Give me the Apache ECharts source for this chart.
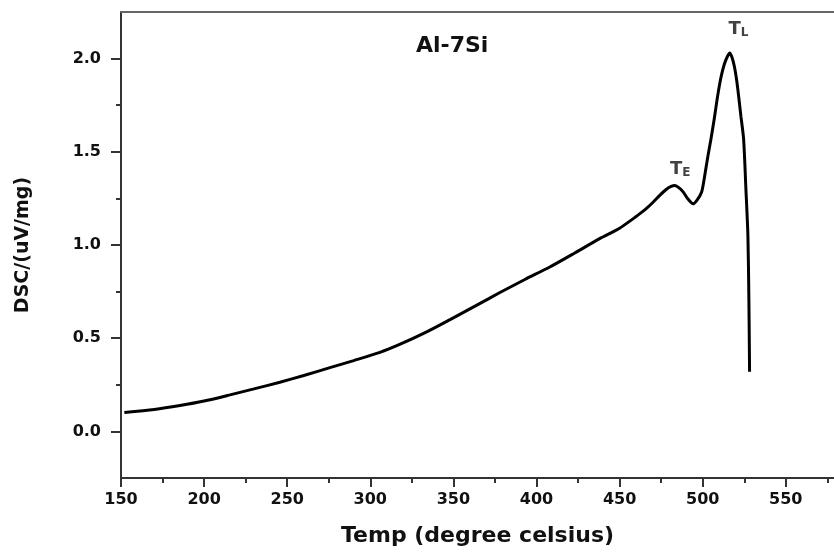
<!DOCTYPE html>
<html>
<head>
<meta charset="utf-8">
<script src="https://cdn.jsdelivr.net/npm/echarts@6/dist/echarts.min.js"></script>
<style>html,body{margin:0;padding:0;background:#fff;overflow:hidden}#c{width:834px;height:552px}</style>
</head>
<body>
<div id="c"></div>
<script>
// Temperature (degree celsius)
var temp = [152,170,185.5,200,215.6,230,245.6,260,275.7,290,305.8,318,333,348,363,378,393,408,423,438,450,458,462,466,470,474,478,481,483.2,486,488.2,491,494.2,496.5,499.3,501,503,505,507,509,511,513,514.8,516.2,517.5,519,520.5,521.6,523,524.6,526,527.2,527.8,528.2];
// DSC signal (uV/mg)
var dsc = [0.102,0.118,0.139,0.163,0.196,0.228,0.264,0.30,0.342,0.38,0.424,0.468,0.53,0.60,0.672,0.745,0.815,0.882,0.957,1.034,1.09,1.14,1.167,1.195,1.228,1.265,1.298,1.314,1.319,1.305,1.285,1.248,1.221,1.24,1.283,1.36,1.47,1.57,1.68,1.80,1.90,1.97,2.01,2.03,2.01,1.96,1.88,1.80,1.69,1.57,1.30,1.05,0.70,0.32];
var xMajor = [150,200,250,300,350,400,450,500,550];
var xMinor = [175,225,275,325,375,425,475,525,575];
var yMajor = [0.0,0.5,1.0,1.5,2.0];
var yMinor = [0.25,0.75,1.25,1.75];
var title = 'Al-7Si';
var peaks = [{name:'T', sub:'E', t:486.5, v:1.41}, {name:'T', sub:'L', t:521.5, v:2.16}];

var FONT = 'DejaVu Sans';
var series = [];
var pts = temp.map(function(t,i){return [t, dsc[i]];});
series.push({type:'line', data:pts, xAxisIndex:0, yAxisIndex:0, smooth:0.25, symbol:'none',
  lineStyle:{color:'#000', width:3}, z:5});
series.push({type:'scatter', xAxisIndex:0, yAxisIndex:0, symbolSize:0,
  data: peaks.map(function(p){return {value:[p.t,p.v], name:p.name, sub:p.sub};}),
  label:{show:true, position:'inside', formatter:function(pr){return '{a|'+pr.data.name+'}{b|'+pr.data.sub+'}';},
    rich:{a:{fontFamily:FONT, fontWeight:'bold', fontSize:18, color:'#111', verticalAlign:'bottom', lineHeight:20},
          b:{fontFamily:FONT, fontWeight:'bold', fontSize:12, color:'#111', verticalAlign:'bottom', lineHeight:16}}}
});

var chart = echarts.init(document.getElementById('c'), null, {width:834, height:552});
chart.setOption({
  animation:false,
  backgroundColor:'#fff',
  grid:{left:121, top:12, width:713, height:471, containLabel:false},
  xAxis:[
    {type:'value', position:'bottom', min:150, max:579,
      name:'Temp (degree celsius)', nameLocation:'middle', nameGap:47,
      nameTextStyle:{fontFamily:FONT, fontWeight:'bold', fontSize:22, color:'#111'},
      axisLine:{show:true, onZero:false, lineStyle:{color:'#333', width:2}},
      axisTick:{show:true, customValues:xMajor, length:9, inside:false, lineStyle:{color:'#333', width:2}},
      axisLabel:{customValues:xMajor, margin:14, fontFamily:FONT, fontWeight:'bold', fontSize:16, color:'#111'},
      splitLine:{show:false}},
    {type:'value', position:'bottom', min:150, max:579,
      axisLine:{show:false, onZero:false},
      axisTick:{show:true, customValues:xMinor, length:5, lineStyle:{color:'#333', width:2}},
      axisLabel:{show:false}, splitLine:{show:false}},
    {type:'value', position:'top', min:150, max:579,
      axisLine:{show:true, onZero:false, lineStyle:{color:'#666', width:2}},
      axisTick:{show:false}, axisLabel:{show:false}, splitLine:{show:false}}
  ],
  yAxis:[
    {type:'value', position:'left', min:-0.25, max:2.25,
      name:'DSC/(uV/mg)', nameLocation:'middle', nameGap:88, nameRotate:90,
      nameTextStyle:{fontFamily:FONT, fontWeight:'bold', fontSize:19, color:'#111'},
      axisLine:{show:true, onZero:false, lineStyle:{color:'#333', width:2}},
      axisTick:{show:true, customValues:yMajor, length:10, lineStyle:{color:'#333', width:2}},
      axisLabel:{customValues:yMajor, margin:20, fontFamily:FONT, fontWeight:'bold', fontSize:16, color:'#111',
        formatter:function(v){return v.toFixed(1);}},
      splitLine:{show:false}},
    {type:'value', position:'left', min:-0.25, max:2.25,
      axisLine:{show:false, onZero:false},
      axisTick:{show:true, customValues:yMinor, length:5, lineStyle:{color:'#333', width:2}},
      axisLabel:{show:false}, splitLine:{show:false}}
  ],
  graphic:[{type:'text', left:416, top:35, style:{text:title, fontFamily:FONT, fontWeight:'bold', fontSize:22, fill:'#111'}}],
  series:series
});
</script>
</body>
</html>
